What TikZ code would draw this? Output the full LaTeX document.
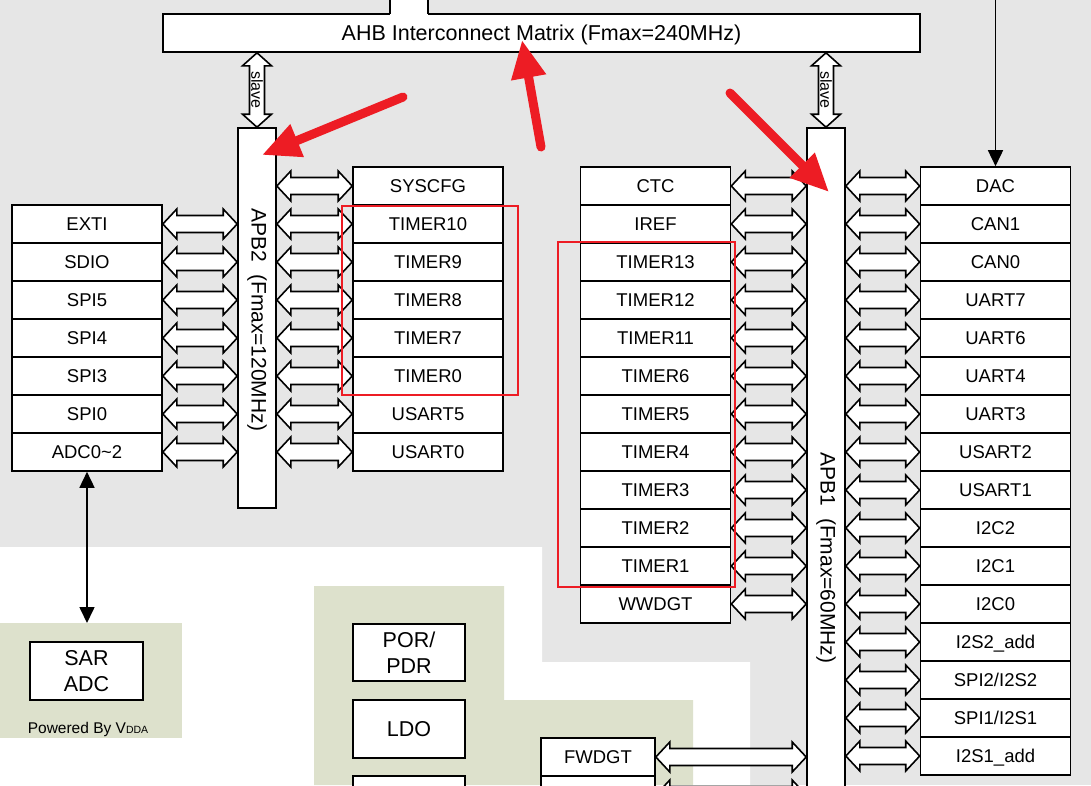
\documentclass[tikz,border=0pt]{standalone}
\usepackage{fontspec}
\setmainfont{Liberation Sans}
\usetikzlibrary{calc,arrows.meta}

\definecolor{chipgrey}{RGB}{230,230,230}
\definecolor{analoggreen}{RGB}{221,225,204}
\definecolor{markred}{RGB}{237,28,36}

\tikzset{
  cell/.style={draw, fill=white, line width=1.6pt, minimum width=150pt, minimum height=38pt,
    inner sep=0pt, text height=13.2pt, text depth=0pt, font=\fontsize{18.5}{20}\selectfont},
  bigcell/.style={draw, fill=white, line width=1.6pt, minimum width=113pt, minimum height=58pt,
    inner sep=0pt, align=center, font=\fontsize{21.5}{26}\selectfont},
  bar/.style={draw, fill=white, line width=1.6pt, minimum width=38pt, inner sep=0pt},
  bartext/.style={rotate=-90, inner sep=0pt, font=\fontsize{21}{24}\selectfont},
  bus/.style={draw, fill=white, line width=1.6pt, line join=miter},
  wire/.style={line width=1.6pt},
  redbox/.style={draw=markred, line width=2.5pt},
  redarrow/.style={markred, line width=9pt, line cap=round, -{Triangle[length=38pt,width=33pt]}}
}

% fat double arrow between two points on one row
\newcommand\buslink[2]{%
  \draw[bus] let \p1=(#1), \p2=(#2) in
    (\x1,\y1) -- (\x1+14pt,\y1+15pt) -- (\x1+14pt,\y1+8.5pt) -- (\x2-14pt,\y1+8.5pt)
    -- (\x2-14pt,\y1+15pt) -- (\x2,\y1) -- (\x2-14pt,\y1-15pt) -- (\x2-14pt,\y1-8.5pt)
    -- (\x1+14pt,\y1-8.5pt) -- (\x1+14pt,\y1-15pt) -- cycle;}

% upright slave link, top point first
\newcommand\slavelink[3]{%
  \draw[bus] let \p1=(#1), \p2=(#2) in
    (\x1,\y1) -- (\x1+14.5pt,\y1-13pt) -- (\x1+7.5pt,\y1-13pt) -- (\x1+7.5pt,\y2+13pt)
    -- (\x1+14.5pt,\y2+13pt) -- (\x1,\y2) -- (\x1-14.5pt,\y2+13pt) -- (\x1-7.5pt,\y2+13pt)
    -- (\x1-7.5pt,\y1-13pt) -- (\x1-14.5pt,\y1-13pt) -- cycle
    (\x1,0.5*\y1+0.5*\y2) node[rotate=-90, inner sep=0pt, font=\fontsize{16}{18}\selectfont](#3){slave};}

\begin{document}
\begin{tikzpicture}[x=1pt,y=-1pt]
  \useasboundingbox (0,0) rectangle (1091,785);
  \clip (0,0) rectangle (1091,785);

  % background zones
  \fill[chipgrey] (0,0) rectangle (1091,785);
  \fill[white] (0,547) -- (542,547) -- (542,662) -- (750,662) -- (750,785) -- (0,785) -- cycle;
  \fill[analoggreen] (0,623) rectangle (182,738);
  \fill[analoggreen] (314,586) -- (504,586) -- (504,700) -- (693,700) -- (693,785) -- (314,785) -- cycle;

  % AHB matrix
  \draw (541.5,33) node[draw, fill=white, line width=1.6pt, minimum width=757pt, minimum height=38pt,
    inner sep=0pt, text height=15.4pt, text depth=0pt, font=\fontsize{21.5}{24}\selectfont](ahb){AHB Interconnect Matrix (Fmax=240MHz)};
  \fill[white] (390,-2) rectangle (428,15);
  \draw[wire] (390,-2) -- (390,14) (428,-2) -- (428,14);

  % bridges
  \draw (257,318) node[bar, minimum height=380pt](apb2){};
  \draw (257,320) node[bartext](apb2txt){APB2\ \ (Fmax=120MHz)};
  \draw (826,464) node[bar, minimum height=672pt](apb1){};
  \draw (826,558) node[bartext](apb1txt){APB1\ \ (Fmax=60MHz)};

  \slavelink{apb2.north |- ahb.south}{apb2.north}{slave2}
  \slavelink{apb1.north |- ahb.south}{apb1.north}{slave1}

  % APB2, left side
  \draw (87,224)node[cell](exti){EXTI};
  \draw (87,262)node[cell](sdio){SDIO};
  \draw (87,300)node[cell](spi5){SPI5};
  \draw (87,338)node[cell](spi4){SPI4};
  \draw (87,376)node[cell](spi3){SPI3};
  \draw (87,414)node[cell](spi0){SPI0};
  \draw (87,452)node[cell](adc){ADC0\textasciitilde 2};

  % APB2, right side
  \draw (428,186)node[cell](syscfg){SYSCFG};
  \draw (428,224)node[cell](timer10){TIMER10};
  \draw (428,262)node[cell](timer9){TIMER9};
  \draw (428,300)node[cell](timer8){TIMER8};
  \draw (428,338)node[cell](timer7){TIMER7};
  \draw (428,376)node[cell](timer0){TIMER0};
  \draw (428,414)node[cell](usart5){USART5};
  \draw (428,452)node[cell](usart0){USART0};

  % APB1, left side
  \draw (655.5,186)node[cell](ctc){CTC};
  \draw (655.5,224)node[cell](iref){IREF};
  \draw (655.5,262)node[cell](timer13){TIMER13};
  \draw (655.5,300)node[cell](timer12){TIMER12};
  \draw (655.5,338)node[cell](timer11){TIMER11};
  \draw (655.5,376)node[cell](timer6){TIMER6};
  \draw (655.5,414)node[cell](timer5){TIMER5};
  \draw (655.5,452)node[cell](timer4){TIMER4};
  \draw (655.5,490)node[cell](timer3){TIMER3};
  \draw (655.5,528)node[cell](timer2){TIMER2};
  \draw (655.5,566)node[cell](timer1){TIMER1};
  \draw (655.5,604)node[cell](wwdgt){WWDGT};

  % APB1, right side
  \draw (995.5,186)node[cell](dac){DAC};
  \draw (995.5,224)node[cell](can1){CAN1};
  \draw (995.5,262)node[cell](can0){CAN0};
  \draw (995.5,300)node[cell](uart7){UART7};
  \draw (995.5,338)node[cell](uart6){UART6};
  \draw (995.5,376)node[cell](uart4){UART4};
  \draw (995.5,414)node[cell](uart3){UART3};
  \draw (995.5,452)node[cell](usart2){USART2};
  \draw (995.5,490)node[cell](usart1){USART1};
  \draw (995.5,528)node[cell](i2c2){I2C2};
  \draw (995.5,566)node[cell](i2c1){I2C1};
  \draw (995.5,604)node[cell](i2c0){I2C0};
  \draw (995.5,642)node[cell](i2s2add){I2S2\_add};
  \draw (995.5,680)node[cell](spi2i2s2){SPI2/I2S2};
  \draw (995.5,718)node[cell](spi1i2s1){SPI1/I2S1};
  \draw (995.5,756)node[cell](i2s1add){I2S1\_add};

  % lower blocks
  \draw (86.5,671)node[bigcell](sar){SAR\\ADC};
  \draw (88,729)node[font=\fontsize{15.5}{18}\selectfont](vdda){Powered By V{\fontsize{10.5}{12}\selectfont DDA}};
  \draw (409,652.5)node[bigcell, minimum width=112pt, minimum height=57pt](porpdr){POR/\\PDR};
  \draw (409,729)node[bigcell, minimum width=112pt](ldo){LDO};
  \draw (409,805)node[bigcell, minimum width=112pt](ldonext){};
  \draw (598,757)node[cell, minimum width=114pt](fwdgt){FWDGT};
  \draw (598,795)node[cell, minimum width=114pt](fwdgtnext){};

  % bus links
  \buslink{exti.east}{apb2.west |- exti.east}
  \buslink{sdio.east}{apb2.west |- sdio.east}
  \buslink{spi5.east}{apb2.west |- spi5.east}
  \buslink{spi4.east}{apb2.west |- spi4.east}
  \buslink{spi3.east}{apb2.west |- spi3.east}
  \buslink{spi0.east}{apb2.west |- spi0.east}
  \buslink{adc.east}{apb2.west |- adc.east}

  \buslink{apb2.east |- syscfg.west}{syscfg.west}
  \buslink{apb2.east |- timer10.west}{timer10.west}
  \buslink{apb2.east |- timer9.west}{timer9.west}
  \buslink{apb2.east |- timer8.west}{timer8.west}
  \buslink{apb2.east |- timer7.west}{timer7.west}
  \buslink{apb2.east |- timer0.west}{timer0.west}
  \buslink{apb2.east |- usart5.west}{usart5.west}
  \buslink{apb2.east |- usart0.west}{usart0.west}

  \buslink{ctc.east}{apb1.west |- ctc.east}
  \buslink{iref.east}{apb1.west |- iref.east}
  \buslink{timer13.east}{apb1.west |- timer13.east}
  \buslink{timer12.east}{apb1.west |- timer12.east}
  \buslink{timer11.east}{apb1.west |- timer11.east}
  \buslink{timer6.east}{apb1.west |- timer6.east}
  \buslink{timer5.east}{apb1.west |- timer5.east}
  \buslink{timer4.east}{apb1.west |- timer4.east}
  \buslink{timer3.east}{apb1.west |- timer3.east}
  \buslink{timer2.east}{apb1.west |- timer2.east}
  \buslink{timer1.east}{apb1.west |- timer1.east}
  \buslink{wwdgt.east}{apb1.west |- wwdgt.east}
  \buslink{fwdgt.east}{apb1.west |- fwdgt.east}
  \buslink{fwdgtnext.east}{apb1.west |- fwdgtnext.east}

  \buslink{apb1.east |- dac.west}{dac.west}
  \buslink{apb1.east |- can1.west}{can1.west}
  \buslink{apb1.east |- can0.west}{can0.west}
  \buslink{apb1.east |- uart7.west}{uart7.west}
  \buslink{apb1.east |- uart6.west}{uart6.west}
  \buslink{apb1.east |- uart4.west}{uart4.west}
  \buslink{apb1.east |- uart3.west}{uart3.west}
  \buslink{apb1.east |- usart2.west}{usart2.west}
  \buslink{apb1.east |- usart1.west}{usart1.west}
  \buslink{apb1.east |- i2c2.west}{i2c2.west}
  \buslink{apb1.east |- i2c1.west}{i2c1.west}
  \buslink{apb1.east |- i2c0.west}{i2c0.west}
  \buslink{apb1.east |- i2s2add.west}{i2s2add.west}
  \buslink{apb1.east |- spi2i2s2.west}{spi2i2s2.west}
  \buslink{apb1.east |- spi1i2s1.west}{spi1i2s1.west}
  \buslink{apb1.east |- i2s1add.west}{i2s1add.west}

  % plain signal lines
  \coordinate (dactop) at (995.5,-2);
  \draw[wire, -{Triangle[length=16pt,width=15pt]}] (dactop) -- (dac.north);
  \coordinate (adcend) at (87,623);
  \draw[wire, {Triangle[length=16pt,width=15pt]}-{Triangle[length=16pt,width=15pt]}] (adc.south) -- (adcend);

  % red marks
  \draw[redbox] (342,206) rectangle (518,395);
  \draw[redbox] (558,242) rectangle (735,587);
  \coordinate (tailapb2) at (403,97);
  \coordinate (tipapb2) at (262,155);
  \coordinate (tailahb) at (541,147);
  \coordinate (tipahb) at (522,40);
  \coordinate (tailapb1) at (730,93);
  \coordinate (tipapb1) at (829,192);
  \draw[redarrow] (tailapb2) -- (tipapb2);
  \draw[redarrow] (tailahb) -- (tipahb);
  \draw[redarrow] (tailapb1) -- (tipapb1);
\end{tikzpicture}
\end{document}
